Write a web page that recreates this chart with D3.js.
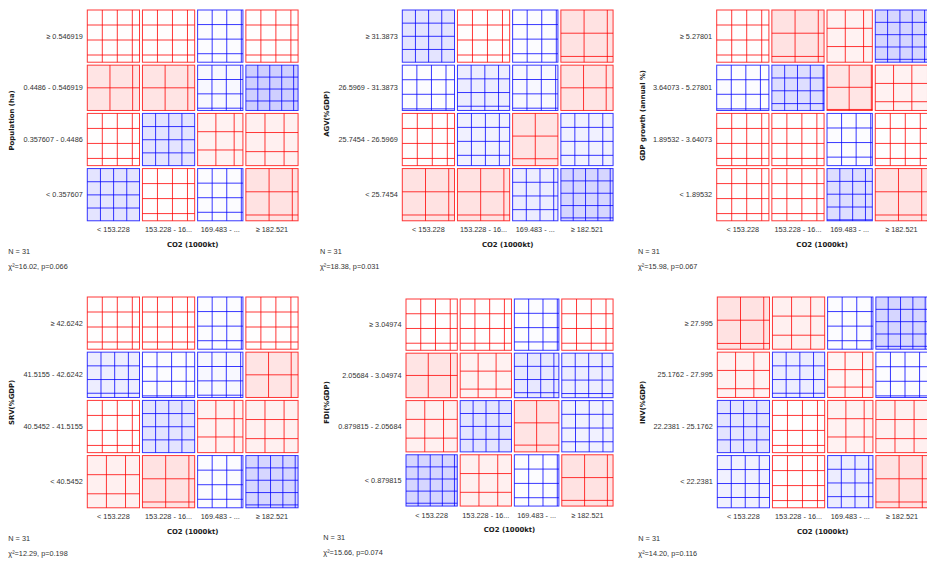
<!DOCTYPE html>
<html><head><meta charset="utf-8">
<script src="https://cdn.jsdelivr.net/npm/d3@7"></script>
<style>body{margin:0;background:#fff}svg{display:block}</style>
</head><body>
<svg id="chart" width="927" height="563"></svg>
<script>
// ---- data ----
const xTitle = "CO2 (1000kt)";
const xCategories = ["< 153.228", "153.228 - 16...", "169.483 - ...", "≥ 182.521"];
const yTitles = ["Population (ha)", "AGV(%GDP)", "GDP growth (annual %)", "SRV(%GDP)", "FDI(%GDP)", "INV(%GDP)"];
const yCategories = [
  ["≥ 0.546919", "0.4486 - 0.546919", "0.357607 - 0.4486", "< 0.357607"],
  ["≥ 31.3873", "26.5969 - 31.3873", "25.7454 - 26.5969", "< 25.7454"],
  ["≥ 5.27801", "3.64073 - 5.27801", "1.89532 - 3.64073", "< 1.89532"],
  ["≥ 42.6242", "41.5155 - 42.6242", "40.5452 - 41.5155", "< 40.5452"],
  ["≥ 3.04974", "2.05684 - 3.04974", "0.879815 - 2.05684", "< 0.879815"],
  ["≥ 27.995", "25.1762 - 27.995", "22.2381 - 25.1762", "< 22.2381"]
];
// observed counts: rows (top to bottom) x columns (left to right)
const observedPopulation = [[2,2,2,2],[0,0,2,5],[2,4,1,1],[4,2,2,0]];
const observedAGV        = [[4,2,2,0],[2,3,2,0],[2,3,0,3],[0,0,3,5]];
const observedGDPGrowth  = [[2,0,1,5],[2,4,0,1],[2,2,2,2],[2,2,4,0]];
const observedSRV        = [[2,2,2,2],[3,2,2,0],[2,4,1,1],[1,0,2,5]];
const observedFDI        = [[2,2,2,2],[0,1,3,3],[1,4,0,3],[5,1,2,0]];
const observedINV        = [[0,1,2,5],[1,3,1,2],[4,2,1,1],[3,2,3,0]];
const observedTables = [observedPopulation, observedAGV, observedGDPGrowth, observedSRV, observedFDI, observedINV];

// ---- layout (positions / sizes only) ----
const layout = [
  {rx: 87.3,  ry: 10,  s: 0.737, nx: 8.3,   tx: 11.7,  tdy: 5},
  {rx: 402.3, ry: 10,  s: 0.737, nx: 320,   tx: 326.7, tdy: -1.5},
  {rx: 716.7, ry: 10,  s: 0.737, nx: 638,   tx: 642.7, tdy: 0},
  {rx: 87.3,  ry: 297, s: 0.737, nx: 8.3,   tx: 11.7,  tdy: 0},
  {rx: 406,   ry: 299, s: 0.724, nx: 323.3, tx: 326.7, tdy: 0},
  {rx: 717.3, ry: 297, s: 0.737, nx: 638.3, tx: 642.7, tdy: 0}
];
const AREA = 290; // area side in unscaled units

// ---- stats helpers ----
function lnGamma(z){
  const g=7, c=[0.99999999999980993,676.5203681218851,-1259.1392167224028,771.32342877765313,
    -176.61503916999185,12.507343278686905,-0.13857109526572012,9.9843695780195716e-6,1.5056327351493116e-7];
  if(z<0.5) return Math.log(Math.PI/Math.sin(Math.PI*z))-lnGamma(1-z);
  z-=1; let x=c[0]; for(let i=1;i<g+2;i++) x+=c[i]/(z+i);
  const t=z+g+0.5; return 0.5*Math.log(2*Math.PI)+(z+0.5)*Math.log(t)-t+Math.log(x);
}
function chi2sf(x,k){
  const a=k/2, y=x/2; let sum=1/a, term=1/a;
  for(let n=1;n<500;n++){ term*=y/(a+n); sum+=term; if(term<sum*1e-15) break; }
  const P=Math.exp(-y+a*Math.log(y)-lnGamma(a))*sum;
  return 1-P;
}

const svg = d3.select("#chart");
const labelFont = "'Liberation Sans', Arial, sans-serif";
const titleFont = "'DejaVu Sans', Verdana, sans-serif";
const textColor = "#333";

observedTables.forEach((obs, pi) => {
  const L = layout[pi], s = L.s;
  const rowTot = obs.map(r => d3.sum(r));
  const colTot = obs[0].map((_, j) => d3.sum(obs, r => r[j]));
  const N = d3.sum(rowTot);
  const ax = L.rx - 2*s, ay = L.ry - 2*s, side = AREA*s;
  const xs = d3.scaleLinear().domain([0, N]).range([ax, ax + side]);
  const ys = d3.scaleLinear().domain([0, N]).range([ay, ay + side]);
  const colStart = d3.cumsum([0, ...colTot]);
  const rowStart = d3.cumsum([0, ...rowTot]);
  const g = svg.append("g");
  let chi = 0;

  obs.forEach((row, i) => {
    row.forEach((o, j) => {
      const e = rowTot[i]*colTot[j]/N;
      const p = (o - e)/Math.sqrt(e);
      chi += p*p;
      const x = xs(colStart[j]) + 2*s, y = ys(rowStart[i]) + 2*s;
      const w = xs(colStart[j] + colTot[j]) - xs(colStart[j]) - 4*s;
      const h = ys(rowStart[i] + rowTot[i]) - ys(rowStart[i]) - 4*s;
      let fill, pen;
      if (p > 0) { const v = Math.max(Math.trunc(255 - 20*p), 55); fill = `rgb(${v},${v},255)`; pen = "rgb(0,0,255)"; }
      else if (p < 0) { const v = Math.max(Math.trunc(255 + 20*p), 55); fill = `rgb(255,${v},${v})`; pen = "rgb(255,0,0)"; }
      else { fill = "rgb(224,224,224)"; pen = "#000"; }
      const dist = (p > 0 ? 20 - 1.6*Math.min(p, 10) : 20 - 8*Math.max(p, -10)) * s;
      const cell = g.append("g").attr("stroke", pen).attr("stroke-opacity", 0.78).attr("stroke-width", 1);
      cell.append("rect").attr("x", x).attr("y", y).attr("width", w).attr("height", h)
        .attr("fill", fill);
      for (let a = dist; a < w; a += dist)
        cell.append("line").attr("x1", x + a).attr("x2", x + a).attr("y1", y).attr("y2", y + h);
      for (let a = dist; a < h; a += dist)
        cell.append("line").attr("x1", x).attr("x2", x + w).attr("y1", y + a).attr("y2", y + a);
    });
  });

  // row labels
  g.selectAll(".rl").data(yCategories[pi]).enter().append("text")
    .attr("x", L.rx - 4.5)
    .attr("y", (d, i) => (ys(rowStart[i]) + ys(rowStart[i] + rowTot[i]))/2)
    .attr("text-anchor", "end").attr("dominant-baseline", "central")
    .attr("font-family", labelFont).attr("font-size", 7.3).attr("fill", textColor)
    .text(d => d);
  // column labels
  const bottom = ys(N) - 2*s;
  g.selectAll(".cl").data(xCategories).enter().append("text")
    .attr("x", (d, j) => (xs(colStart[j]) + xs(colStart[j] + colTot[j]))/2)
    .attr("y", bottom + 9)
    .attr("text-anchor", "middle").attr("dominant-baseline", "central")
    .attr("font-family", labelFont).attr("font-size", 7.3).attr("fill", textColor)
    .text(d => d);
  // x title
  g.append("text").attr("x", ax + side/2).attr("y", bottom + 24.4)
    .attr("text-anchor", "middle").attr("dominant-baseline", "central")
    .attr("font-family", titleFont).attr("font-weight", "bold").attr("font-size", 6.9).attr("fill", "#1a1a1a")
    .text(xTitle);
  // y title
  const cy = ay + side/2 + L.tdy;
  g.append("text").attr("transform", `translate(${L.tx},${cy}) rotate(-90)`)
    .attr("text-anchor", "middle").attr("dominant-baseline", "central")
    .attr("font-family", titleFont).attr("font-weight", "bold").attr("font-size", 6.9).attr("fill", "#1a1a1a")
    .text(yTitles[pi]);
  // N and chi-square
  const pval = chi2sf(chi, (obs.length - 1)*(obs[0].length - 1));
  g.append("text").attr("x", L.nx).attr("y", bottom + 31)
    .attr("dominant-baseline", "central")
    .attr("font-family", labelFont).attr("font-size", 7.3).attr("fill", textColor)
    .text(`N = ${N}`);
  g.append("text").attr("x", L.nx).attr("y", bottom + 46)
    .attr("dominant-baseline", "central")
    .attr("font-family", labelFont).attr("font-size", 7.3).attr("fill", textColor)
    .text(`χ²=${chi.toFixed(2)}, p=${pval.toFixed(3)}`);
});
</script>
</body></html>
